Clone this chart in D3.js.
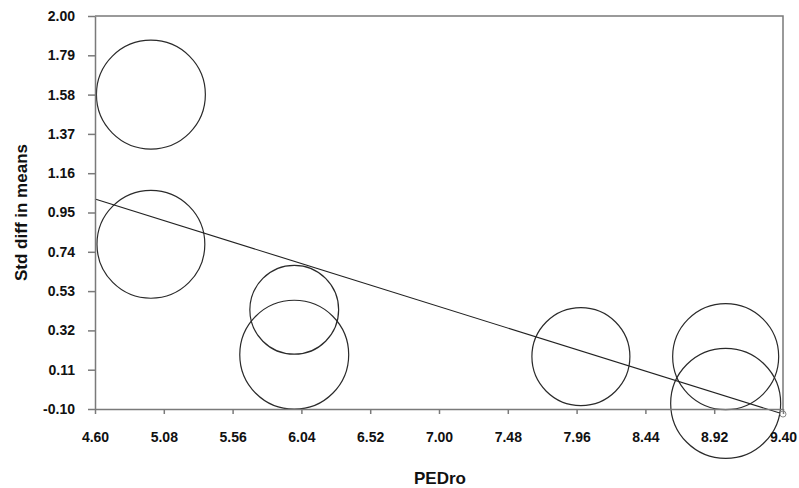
<!DOCTYPE html>
<html>
<head>
<meta charset="utf-8">
<script src="https://cdn.jsdelivr.net/npm/d3@7"></script>
<style>
  body { margin: 0; background: #fff; }
  svg text { font-family: "Liberation Sans", Arial, sans-serif; font-weight: bold; fill: #111; }
</style>
</head>
<body>
<svg id="chart"></svg>
<script>
// Studies: PEDro score, std diff in means, relative weight
const pedro = [4.99, 4.99, 5.99, 5.99, 7.99, 9.00, 9.00];
const smd = [1.58, 0.78, 0.43, 0.19, 0.18, 0.18, -0.07];
const weights = [15.2, 14.9, 10.1, 15.2, 12.3, 14.4, 15.5];

// regression line endpoints (x, predicted y)
const regX = [4.60, 9.40];
const regY = [1.022, -0.127];

const xTicks = [4.60, 5.08, 5.56, 6.04, 6.52, 7.00, 7.48, 7.96, 8.44, 8.92, 9.40];
const yTicks = [-0.10, 0.11, 0.32, 0.53, 0.74, 0.95, 1.16, 1.37, 1.58, 1.79, 2.00];

const W = 799, H = 488;
const margin = { top: 16, right: 16, bottom: 79, left: 95 };
const width = W - margin.left - margin.right;
const height = H - margin.top - margin.bottom;

const svg = d3.select('#chart').attr('width', W).attr('height', H);
const g = svg.append('g').attr('transform', `translate(${margin.left},${margin.top})`);

const x = d3.scaleLinear().domain([4.60, 9.40]).range([0, width]);
const y = d3.scaleLinear().domain([-0.10, 2.00]).range([height, 0]);
const r = d3.scaleSqrt().domain([0, d3.max(weights)]).range([0, 55]);

const axisColor = '#7a7a7a';
const fmt = d => d.toFixed(2); // plain hyphen for negatives

// frame (top and right)
g.append('path')
  .attr('d', `M0,0H${width}V${height}`)
  .attr('fill', 'none')
  .attr('stroke', axisColor)
  .attr('stroke-width', 1.5);

// bubbles
g.selectAll('.bubble')
  .data(pedro.map((p, i) => ({ p, v: smd[i], w: weights[i] })))
  .enter().append('circle')
  .attr('class', 'bubble')
  .attr('cx', d => x(d.p))
  .attr('cy', d => y(d.v))
  .attr('r', d => r(d.w))
  .attr('fill', 'none')
  .attr('stroke', '#2a2a2a')
  .attr('stroke-width', 1.2);

// regression line
g.append('line')
  .attr('x1', x(regX[0])).attr('y1', y(regY[0]))
  .attr('x2', x(regX[1])).attr('y2', y(regY[1]))
  .attr('stroke', '#222')
  .attr('stroke-width', 1.1);

g.append('circle')
  .attr('cx', x(regX[1])).attr('cy', y(regY[1]))
  .attr('r', 3)
  .attr('fill', '#fff')
  .attr('stroke', '#888')
  .attr('stroke-width', 1);

// axes
const xAxis = g.append('g')
  .attr('transform', `translate(0,${height})`)
  .call(d3.axisBottom(x).tickValues(xTicks).tickFormat(fmt).tickSize(5).tickSizeOuter(0));

const yAxis = g.append('g')
  .call(d3.axisLeft(y).tickValues(yTicks).tickFormat(fmt).tickSize(7).tickSizeOuter(0));

[xAxis, yAxis].forEach(a => {
  a.select('.domain').attr('stroke', axisColor).attr('stroke-width', 1.5);
  a.selectAll('.tick line').attr('stroke', axisColor).attr('stroke-width', 1.5);
  a.selectAll('text').style('font-size', '14px').attr('fill', '#111');
});
xAxis.selectAll('text').attr('dy', '0').attr('y', 33);
yAxis.selectAll('text').attr('x', -20);

// labels
svg.append('text')
  .attr('x', margin.left + width / 2 + 1)
  .attr('y', 484)
  .attr('text-anchor', 'middle')
  .style('font-size', '17px')
  .text('PEDro');

svg.append('text')
  .attr('transform', `translate(27,${margin.top + height / 2}) rotate(-90)`)
  .attr('text-anchor', 'middle')
  .style('font-size', '17px')
  .text('Std diff in means');
</script>
</body>
</html>
